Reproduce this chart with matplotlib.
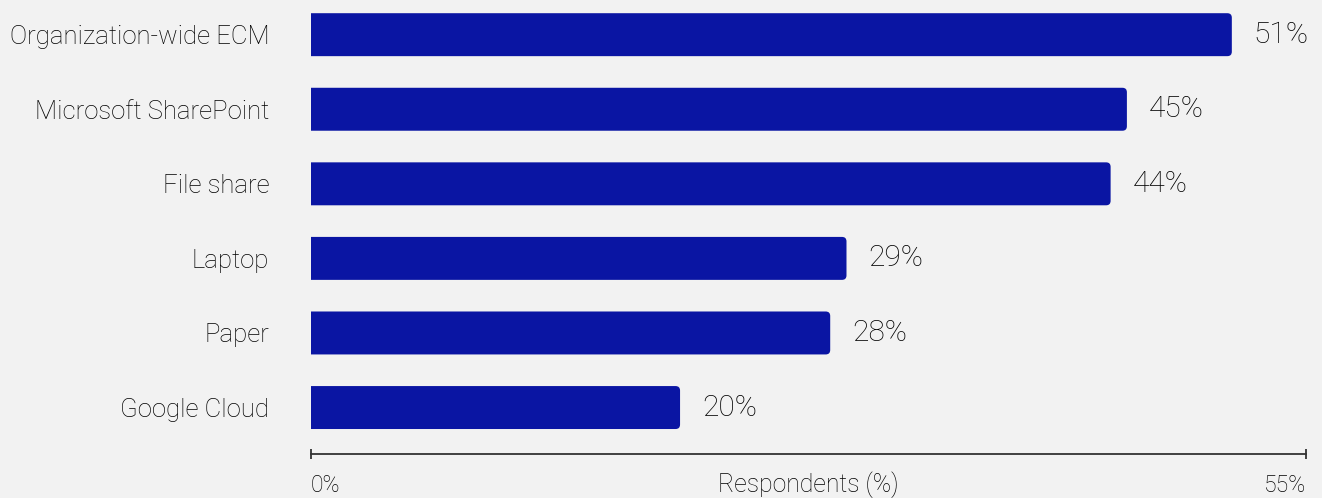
import matplotlib.pyplot as plt
from matplotlib.patches import PathPatch
from matplotlib.path import Path

categories = ["Organization-wide ECM", "Microsoft SharePoint", "File share",
              "Laptop", "Paper", "Google Cloud"]
values = [50.9, 45.1, 44.2, 29.6, 28.7, 20.4]
value_labels = ["51%", "45%", "44%", "29%", "28%", "20%"]
x_ticks = [0, 55]
x_tick_labels = ["0%", "55%"]

BG = "#f2f2f2"
BAR = "#0a15a3"
TXT = "#000000"
FONT = ["Roboto", "DejaVu Sans"]

plt.rcParams["font.family"] = FONT
plt.rcParams["font.weight"] = "light"
plt.rcParams["axes.labelweight"] = "light"

W, H = 1322, 498
fig = plt.figure(figsize=(W / 100, H / 100), dpi=100, facecolor=BG)
ax = fig.add_axes([311 / W, (H - 454) / H, (1306 - 311) / W, 454 / H])
ax.set_facecolor(BG)

pos = list(range(len(categories)))
bar_h = 0.576
ax.set_xlim(0, 55)
ax.set_ylim(len(categories) - 1 + 0.623, -0.465)

# data units per pixel, for the rounded right corners
x_per_px = 55 / (1306 - 311)
y_per_px = (len(categories) - 1 + 0.623 + 0.465) / 454
rx = 4.5 * x_per_px
ry = 4.5 * y_per_px

bars = ax.barh(pos, values, height=bar_h, color=BAR)
for b in bars:
    x, y, w, h = b.get_x(), b.get_y(), b.get_width(), b.get_height()
    b.set_visible(False)
    verts = [(x, y), (x + w - rx, y), (x + w, y), (x + w, y + ry),
             (x + w, y + h - ry), (x + w, y + h), (x + w - rx, y + h),
             (x, y + h), (x, y)]
    codes = [Path.MOVETO, Path.LINETO, Path.CURVE3, Path.CURVE3,
             Path.LINETO, Path.CURVE3, Path.CURVE3, Path.LINETO, Path.CLOSEPOLY]
    ax.add_patch(PathPatch(Path(verts, codes), fc=BAR, ec="none"))

for p, v, lab in zip(pos, values, value_labels):
    ax.annotate(lab, (v, p), xytext=(22, 0), textcoords="offset pixels",
                va="center", ha="left", fontsize=21.5, color=TXT)

ax.set_yticks(pos)
ax.set_yticklabels(categories, fontsize=18.5, color=TXT)
ax.tick_params(axis="y", length=0, pad=30)

for s in ["top", "right", "left"]:
    ax.spines[s].set_visible(False)
ax.spines["bottom"].set_color("#333333")
ax.spines["bottom"].set_linewidth(1.3)

ax.set_xticks(x_ticks)
ax.set_xticklabels(x_tick_labels, fontsize=16.5, color=TXT)
ax.tick_params(axis="x", direction="inout", length=7, width=1.3,
               color="#333333", pad=11)
tl = ax.get_xticklabels()
tl[0].set_ha("left")
tl[-1].set_ha("right")

ax.set_xlabel("Respondents (%)", fontsize=17.8, color=TXT)
ax.xaxis.set_label_coords(0.5, -0.068)
ax.xaxis.label.set_va("center")

fig.savefig("out.png", dpi=100, facecolor=BG)
